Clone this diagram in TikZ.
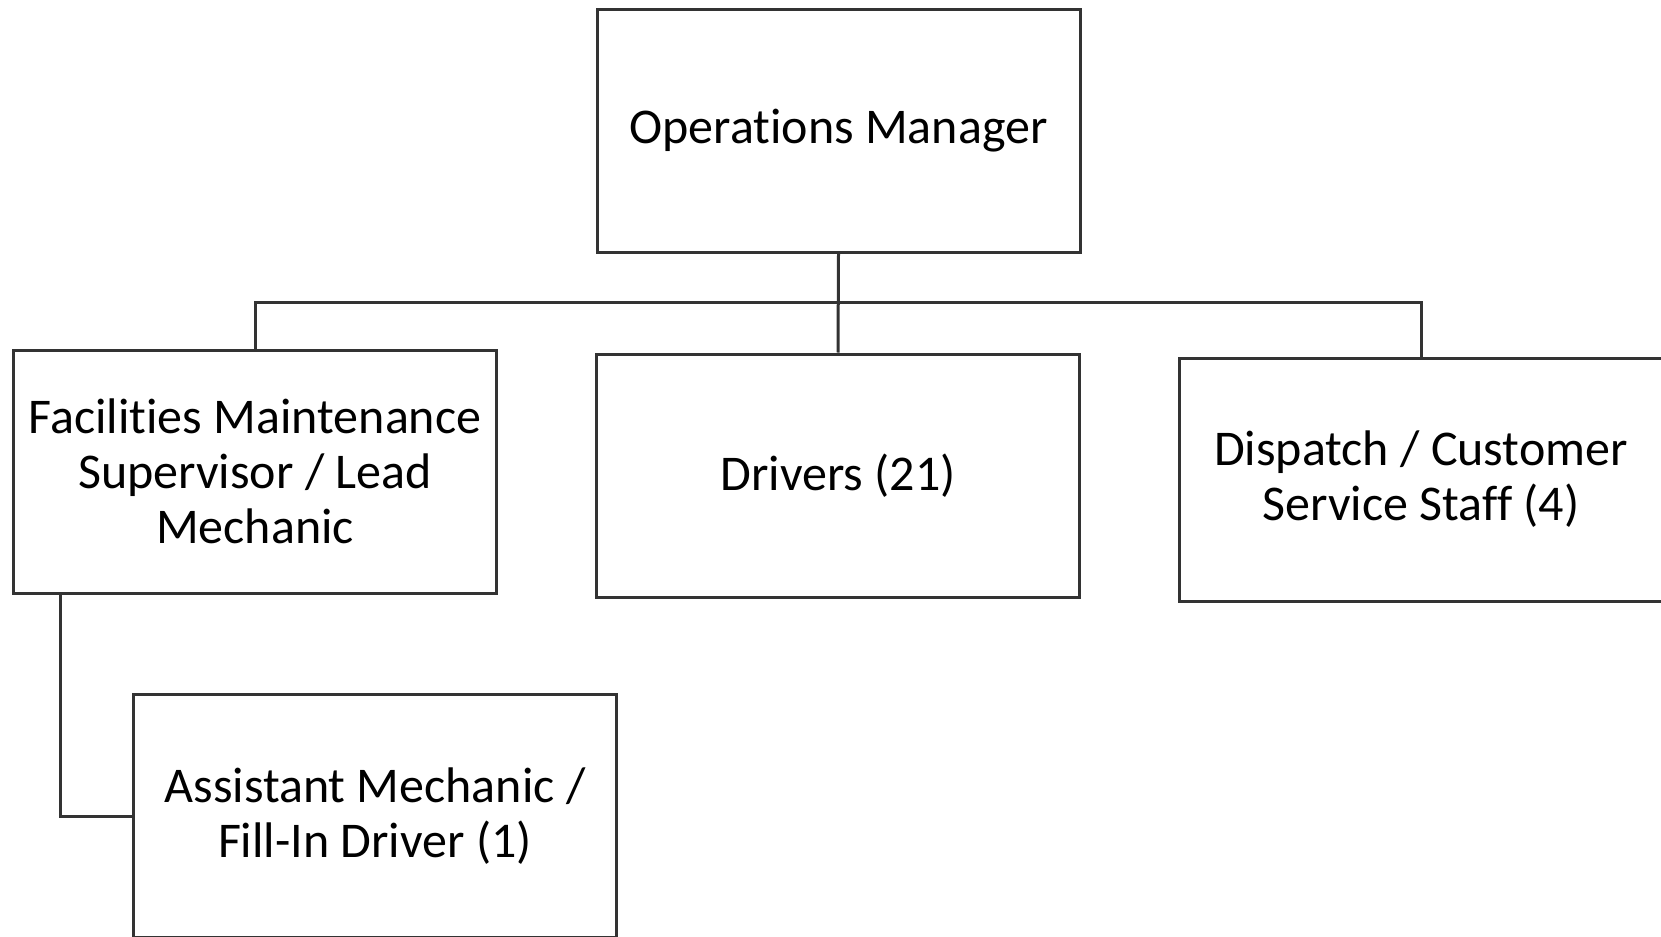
\documentclass[tikz,border=0pt]{standalone}
\usepackage{fontspec}
\setmainfont[Ligatures=NoCommon]{Carlito}
\usetikzlibrary{positioning}

\tikzset{
  role/.style={draw=black!80, line width=1.5pt, rectangle, inner sep=0pt,
    minimum width=241.5pt, minimum height=121.5pt, align=center,
    font=\fontsize{25}{27.5}\selectfont},
  link/.style={draw=black!80, line width=1.5pt}
}

\begin{document}
\begin{tikzpicture}[x=0.5pt, y=-0.5pt]
        \useasboundingbox (0,0) rectangle (1661,937);

        \node (om) [role] at (838.5,131) {Operations Manager};

        \node (fac) [role] at (255,471.5) {Facilities Maintenance\\Supervisor / Lead\\Mechanic};
        \node (drv) [role] at (838,475.5) {Drivers (21)};
        \node (dsp) [role] at (1421,479.5) {Dispatch / Customer\\Service Staff (4)};

        \node (asst) [role] at (375,816) {Assistant Mechanic /\\Fill-In Driver (1)};

        \coordinate (bus) at (838.5,302);

        \draw [link] (om.south) -- (drv.north);
        \draw [link] (fac.north) |- (bus) -| (dsp.north);

        \draw [link] ([xshift=24pt]fac.south west) |- (asst.west);
      \end{tikzpicture}
\end{document}
